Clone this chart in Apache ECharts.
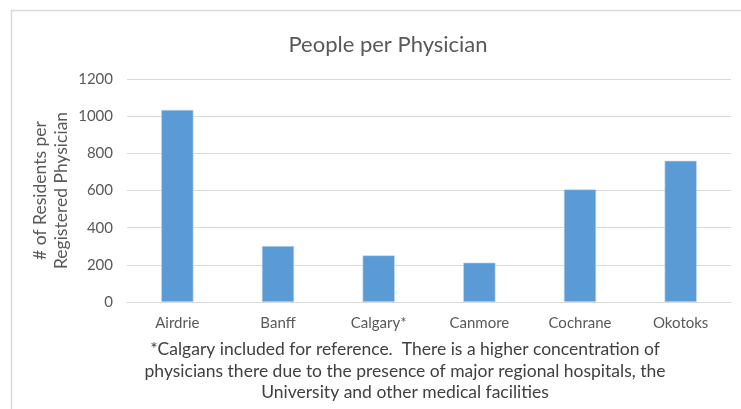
<!DOCTYPE html>
<html>
<head>
<meta charset="utf-8">
<script src="https://cdn.jsdelivr.net/npm/echarts@6/dist/echarts.min.js"></script>
<style>
  html, body { margin: 0; padding: 0; background: #fff; }
  #chart { width: 741px; height: 409px; }
</style>
</head>
<body>
<div id="chart"></div>
<script>
// Residents per registered physician, by community
const towns = ['Airdrie', 'Banff', 'Calgary*', 'Canmore', 'Cochrane', 'Okotoks'];
const peoplePerPhysician = [1034, 301, 251, 212, 606, 760];
const yTicks = { min: 0, max: 1200, step: 200 };
const footnote = [
  '*Calgary included for reference.  There is a higher concentration of',
  'physicians there due to the presence of major regional hospitals, the',
  'University and other medical facilities'
];

const FONT = 'Lato, "Open Sans", sans-serif';
const chart = echarts.init(document.getElementById('chart'));

chart.setOption({
  animation: false,
  backgroundColor: '#fff',
  title: {
    text: 'People per Physician',
    left: 383,
    textAlign: 'center',
    top: 29,
    textStyle: { fontFamily: FONT, fontSize: 22, fontWeight: 'normal', color: '#595959' }
  },
  grid: { left: 127, right: 10, top: 79, bottom: 107, containLabel: false },
  xAxis: {
    type: 'category',
    data: towns,
    axisTick: { show: false },
    axisLine: { show: true, lineStyle: { color: '#d9d9d9', width: 1 } },
    axisLabel: { fontFamily: FONT, fontSize: 15, color: '#595959', margin: 14 }
  },
  yAxis: {
    type: 'value',
    min: yTicks.min,
    max: yTicks.max,
    interval: yTicks.step,
    name: '# of Residents per\nRegistered Physician',
    nameLocation: 'middle',
    nameGap: 55,
    nameMoveOverlap: false,
    nameRotate: 90,
    nameTextStyle: { fontFamily: FONT, fontSize: 17.5, color: '#595959', lineHeight: 21 },
    axisLine: { show: false },
    axisTick: { show: false },
    axisLabel: {
      fontFamily: FONT, fontSize: 15, color: '#595959', margin: 14,
      formatter: v => String(v)
    },
    splitLine: { lineStyle: { color: '#d9d9d9', width: 1 } }
  },
  series: [{
    type: 'bar',
    data: peoplePerPhysician,
    barWidth: '32%',
    itemStyle: { color: '#5b9bd5', borderColor: '#c5daf0', borderWidth: 0.6 }
  }],
  graphic: [
    {
      type: 'rect',
      shape: { x: 11.5, y: 10.5, width: 800, height: 500 },
      style: { fill: 'none', stroke: '#d9d9d9', lineWidth: 1.5 },
      silent: true,
      z: -1
    },
    {
      type: 'text',
      x: 405,
      y: 339,
      style: {
        text: footnote.join('\n'),
        fontFamily: FONT,
        fontSize: 17.5,
        lineHeight: 21.5,
        fill: '#404040',
        align: 'center',
        verticalAlign: 'top'
      }
    }
  ]
});
</script>
</body>
</html>
